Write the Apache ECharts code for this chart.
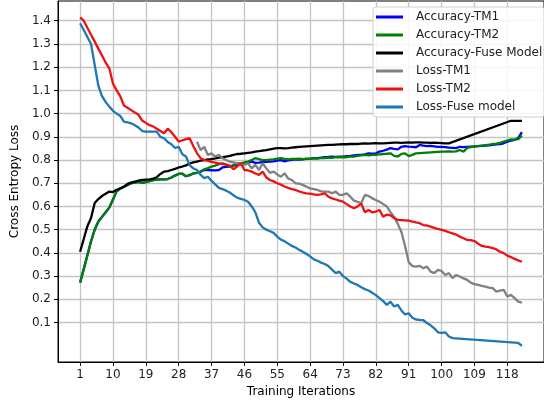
<!DOCTYPE html>
<html>
<head>
<meta charset="utf-8">
<script src="https://cdn.jsdelivr.net/npm/echarts@6/dist/echarts.min.js"></script>
<style>html,body{margin:0;padding:0;background:#fff;}#c{width:544px;height:404px;}</style>
</head>
<body>
<div id="c"></div>
<script>
var iterations = [];
for (var n = 1; n <= 122; n++) iterations.push(n);

var xTicks = [1, 10, 19, 28, 37, 46, 55, 64, 73, 82, 91, 100, 109, 118];
var yTicks = [0.1, 0.2, 0.3, 0.4, 0.5, 0.6, 0.7, 0.8, 0.9, 1.0, 1.1, 1.2, 1.3, 1.4];

var accTM2 = [
0.272,0.33,0.39,0.45,0.50,0.535,0.555,0.575,0.595,0.63,
0.665,0.677,0.685,0.693,0.70,0.703,0.706,0.702,0.705,0.709,
0.713,0.716,0.717,0.717,0.718,0.725,0.733,0.74,0.741,0.73,
0.735,0.742,0.745,0.75,0.76,0.765,0.772,0.776,0.782,0.786,
0.78,0.772,0.778,0.786,0.785,0.79,0.793,0.80,0.808,0.804,
0.80,0.80,0.802,0.803,0.806,0.808,0.805,0.803,0.805,0.805,
0.806,0.804,0.806,0.805,0.807,0.806,0.808,0.808,0.81,0.809,
0.812,0.811,0.813,0.812,0.815,0.815,0.818,0.82,0.822,0.82,
0.822,0.822,0.824,0.826,0.827,0.829,0.818,0.815,0.826,0.829,
0.817,0.822,0.829,0.83,0.831,0.832,0.833,0.834,0.835,0.836,
0.836,0.837,0.836,0.837,0.843,0.836,0.852,0.856,0.858,0.86,
0.862,0.864,0.866,0.869,0.871,0.874,0.879,0.884,0.889,0.888,
0.89,0.905];

var accTM1 = [
0.272,0.33,0.39,0.45,0.50,0.535,0.555,0.575,0.595,0.63,
0.665,0.677,0.685,0.693,0.70,0.703,0.706,0.702,0.705,0.709,
0.713,0.716,0.717,0.717,0.718,0.725,0.733,0.74,0.741,0.73,
0.735,0.742,0.745,0.75,0.757,0.757,0.756,0.755,0.757,0.768,
0.771,0.772,0.776,0.779,0.782,0.786,0.789,0.793,0.788,0.789,
0.791,0.792,0.793,0.794,0.797,0.80,0.794,0.798,0.801,0.803,
0.802,0.803,0.805,0.806,0.808,0.808,0.81,0.812,0.813,0.815,
0.814,0.815,0.815,0.817,0.818,0.82,0.822,0.822,0.824,0.829,
0.828,0.829,0.836,0.84,0.845,0.851,0.848,0.846,0.857,0.86,
0.858,0.857,0.855,0.865,0.862,0.86,0.861,0.859,0.857,0.857,
0.856,0.853,0.852,0.851,0.857,0.856,0.857,0.858,0.859,0.86,
0.861,0.862,0.863,0.865,0.867,0.869,0.872,0.879,0.883,0.887,
0.895,0.92];

var accFuse = [
0.405,0.46,0.515,0.55,0.615,0.632,0.645,0.655,0.664,0.662,
0.672,0.678,0.685,0.697,0.703,0.707,0.711,0.714,0.716,0.717,
0.72,0.726,0.74,0.75,0.752,0.757,0.762,0.768,0.772,0.777,
0.785,0.79,0.793,0.797,0.80,0.803,0.804,0.807,0.81,0.812,
0.815,0.818,0.822,0.826,0.827,0.829,0.831,0.833,0.836,0.838,
0.841,0.843,0.846,0.849,0.851,0.851,0.85,0.851,0.853,0.855,
0.857,0.858,0.859,0.86,0.861,0.862,0.863,0.864,0.865,0.865,
0.866,0.867,0.868,0.868,0.869,0.87,0.869,0.871,0.872,0.871,
0.872,0.873,0.872,0.872,0.873,0.874,0.875,0.875,0.874,0.875,
0.876,0.875,0.876,0.876,0.875,0.875,0.874,0.875,0.874,0.873,
0.872,0.872,null,null,null,null,null,null,null,null,
null,null,null,null,null,null,null,null,0.969,0.969,
0.969,0.969];

var lossTM1 = [
null,null,null,null,null,null,null,null,null,null,
null,null,null,null,null,null,null,null,null,null,
null,null,null,null,null,null,null,null,null,null,
null,null,0.879,0.843,0.857,0.822,0.829,0.815,0.822,0.808,
0.80,0.793,0.79,0.786,0.782,0.779,0.786,0.764,0.779,0.757,
0.786,0.764,0.745,0.75,0.738,0.728,0.743,0.72,0.714,0.70,
0.698,0.693,0.685,0.678,0.675,0.671,0.665,0.664,0.664,0.657,
0.664,0.65,0.65,0.657,0.642,0.625,0.62,0.614,0.65,0.645,
0.635,0.628,0.62,0.61,0.60,0.575,0.555,0.525,0.49,0.43,
0.36,0.343,0.341,0.344,0.334,0.341,0.319,0.313,0.327,0.322,
0.305,0.313,0.291,0.305,0.298,0.29,0.284,0.272,0.265,0.262,
0.258,0.255,0.25,0.248,0.233,0.237,0.241,0.212,0.219,0.205,
0.19,0.186];

var lossTM2 = [
1.414,1.40,1.37,1.34,1.31,1.28,1.25,1.22,1.195,1.13,
1.10,1.075,1.035,1.025,1.015,1.005,0.995,0.97,0.96,0.95,
0.945,0.935,0.925,0.915,0.935,0.92,0.90,0.879,0.885,0.89,
0.894,0.86,0.83,0.808,0.80,0.796,0.792,0.789,0.786,0.782,
0.78,0.776,0.76,0.772,0.786,0.757,0.755,0.75,0.742,0.736,
0.75,0.725,0.714,0.708,0.70,0.694,0.686,0.68,0.675,0.671,
0.665,0.66,0.656,0.655,0.652,0.65,0.652,0.657,0.642,0.635,
0.63,0.625,0.621,0.61,0.60,0.592,0.60,0.612,0.575,0.585,
0.575,0.578,0.585,0.556,0.565,0.562,0.55,0.542,0.541,0.54,
0.539,0.535,0.531,0.528,0.52,0.518,0.513,0.508,0.503,0.499,
0.495,0.489,0.484,0.479,0.47,0.463,0.456,0.455,0.451,0.44,
0.43,0.427,0.425,0.421,0.415,0.405,0.399,0.388,0.382,0.374,
0.368,0.362];

var lossFuse = [
1.389,1.36,1.33,1.30,1.21,1.12,1.075,1.05,1.03,1.012,
1.0,0.99,0.965,0.962,0.958,0.95,0.94,0.925,0.922,0.922,
0.922,0.922,0.90,0.894,0.878,0.868,0.852,0.857,0.825,0.815,
0.778,0.764,0.757,0.736,0.722,0.728,0.71,0.695,0.68,0.675,
0.668,0.66,0.648,0.638,0.633,0.628,0.62,0.60,0.575,0.53,
0.51,0.50,0.493,0.486,0.47,0.457,0.45,0.44,0.43,0.423,
0.413,0.405,0.395,0.385,0.372,0.366,0.358,0.352,0.343,0.328,
0.313,0.319,0.30,0.289,0.275,0.268,0.262,0.252,0.244,0.238,
0.228,0.218,0.205,0.192,0.176,0.19,0.169,0.176,0.152,0.135,
0.14,0.121,0.113,0.111,0.11,0.098,0.088,0.075,0.058,0.055,
0.058,0.04,0.033,null,null,null,null,null,null,null,
null,null,null,null,null,null,null,null,null,null,
0.012,0.0];

var seriesNames = ['Accuracy-TM1','Accuracy-TM2','Accuracy-Fuse Model','Loss-TM1','Loss-TM2','Loss-Fuse model'];
var seriesValues = [accTM1, accTM2, accFuse, lossTM1, lossTM2, lossFuse];
var seriesColors = ['#0000ff','#008000','#000000','#808080','#ee1111','#1f77b4'];

function pairs(vals){ return vals.map(function(v,k){ return [iterations[k], v]; }); }

var font = 'DejaVu Sans';
var chart = echarts.init(document.getElementById('c'), null, {renderer:'canvas'});
chart.setOption({
  animation: false,
  backgroundColor: '#fff',
  grid: {left: 58, right: -10, top: 1, bottom: 42, show: true, borderColor: '#000', borderWidth: 1, backgroundColor: 'transparent'},
  xAxis: {
    type: 'value', min: -5.05, max: 128.05,
    name: 'Training Iterations', nameLocation: 'middle', nameGap: 24,
    nameTextStyle: {fontFamily: font, fontSize: 12, color: '#000'},
    axisLine: {show: true, onZero: false, lineStyle: {color: '#000', width: 1}},
    axisTick: {show: true, length: 4, lineStyle: {color: '#000'}, customValues: xTicks},
    axisLabel: {fontFamily: font, fontSize: 12, color: '#222', margin: 7, customValues: xTicks},
    splitLine: {show: true, lineStyle: {color: '#c4c4c4', width: 1.3}}
  },
  yAxis: {
    type: 'value', min: -0.07, max: 1.485,
    name: 'Cross Entropy Loss', nameLocation: 'middle', nameGap: 34, nameRotate: 90,
    nameTextStyle: {fontFamily: font, fontSize: 12, color: '#000'},
    axisLine: {show: true, onZero: false, lineStyle: {color: '#000', width: 1}},
    axisTick: {show: true, length: 4, lineStyle: {color: '#000'}, customValues: yTicks},
    axisLabel: {fontFamily: font, fontSize: 12, color: '#222', margin: 7, customValues: yTicks,
      formatter: function(v){ return v.toFixed(1); }},
    splitLine: {show: true, lineStyle: {color: '#c4c4c4', width: 1.3}}
  },
  legend: {
    show: true, orient: 'vertical', left: 373, top: 7, z: 10,
    backgroundColor: 'rgba(255,255,255,0.85)', borderColor: '#d0d0d0', borderWidth: 1, borderRadius: 3,
    padding: [4, 2, 4, 3], itemGap: 6, itemWidth: 27, itemHeight: 3, icon: 'rect',
    textStyle: {fontFamily: font, fontSize: 12, color: '#222', padding: [0, 0, 0, 8]},
    data: seriesNames
  },
  series: seriesNames.map(function(nm, k){
    return {
      name: nm, type: 'line', data: pairs(seriesValues[k]), showSymbol: false, symbol: 'none',
      connectNulls: true, lineStyle: {color: seriesColors[k], width: 2.3}, itemStyle: {color: seriesColors[k]},
      emphasis: {disabled: true}
    };
  })
});
</script>
</body>
</html>
